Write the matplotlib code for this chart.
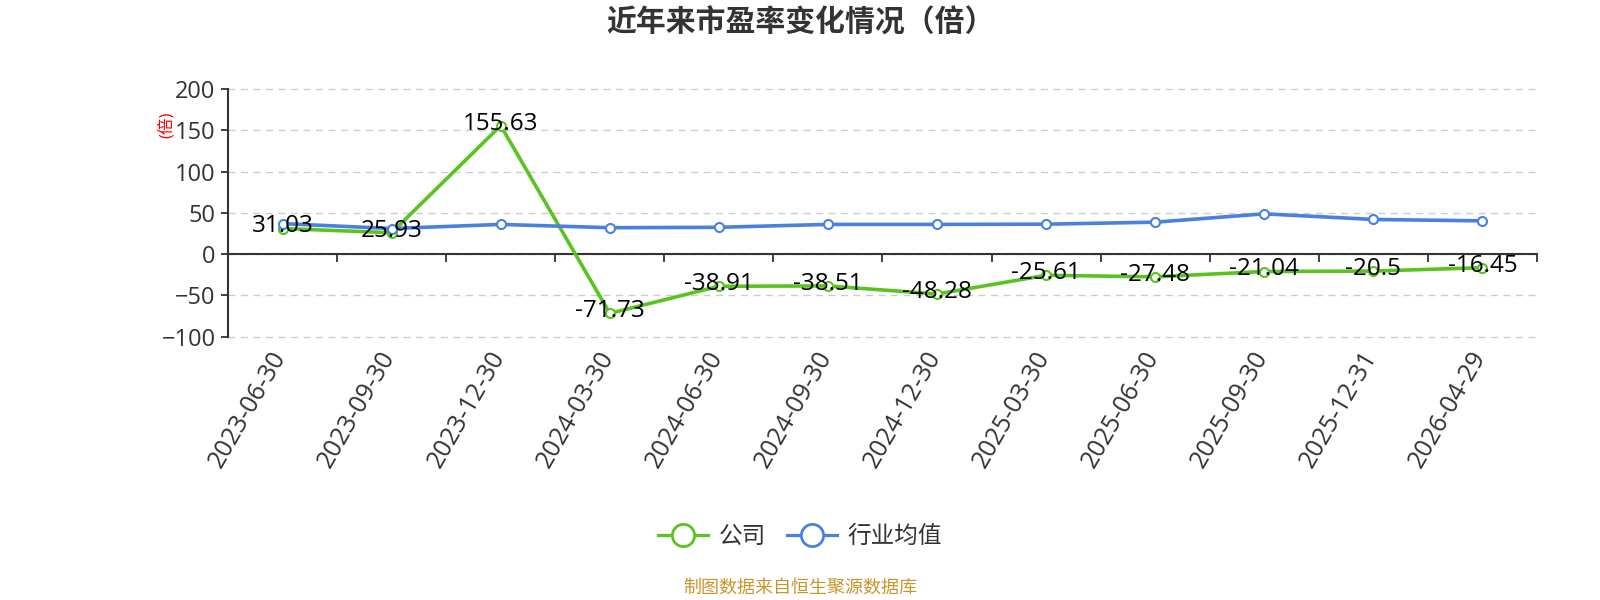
import matplotlib
matplotlib.use('Agg')
import matplotlib.pyplot as plt
import matplotlib.transforms as mtransforms
from matplotlib.lines import Line2D
import numpy as np

plt.rcParams['font.family'] = ['Open Sans', 'Noto Sans CJK SC', 'DejaVu Sans']

# données
dates = ['2023-06-30', '2023-09-30', '2023-12-30', '2024-03-30', '2024-06-30',
         '2024-09-30', '2024-12-30', '2025-03-30', '2025-06-30', '2025-09-30',
         '2025-12-31', '2026-04-29']
pe_societe = [31.03, 25.93, 155.63, -71.73, -38.91, -38.51, -48.28,
              -25.61, -27.48, -21.04, -20.5, -16.45]
pe_secteur = [37.0, 31.0, 36.0, 32.0, 32.5, 36.0, 36.0, 36.3, 38.7, 48.8, 42.0, 40.3]
y_ticks = [-100, -50, 0, 50, 100, 150, 200]

vert = '#5BC31F'
bleu = '#4A80E0'
gris = '#333333'

fig = plt.figure(figsize=(16, 6), dpi=100)
ax = fig.add_axes([228 / 1600, 1 - 336.7 / 600, (1537 - 228) / 1600, (336.7 - 89) / 600])

x = np.arange(len(dates))
ax.plot(x, pe_societe, color=vert, lw=2.6, marker='o', ms=6.5, mfc='white',
        mec=vert, mew=1.5, zorder=3)
ax.plot(x, pe_secteur, color=bleu, lw=2.6, marker='o', ms=6.5, mfc='white',
        mec=bleu, mew=1.5, zorder=4)

for xi, v in zip(x, pe_societe):
    ax.annotate('{:g}'.format(v), (xi, v), xytext=(0, 1.5), textcoords='offset points',
                ha='center', va='center', fontsize=17.5, color='black', zorder=6)

ax.set_xlim(-0.5, len(dates) - 0.5)
ax.set_ylim(y_ticks[0], y_ticks[-1])
ax.set_yticks(y_ticks)
ax.yaxis.grid(True, linestyle=(0, (5, 4)), color='#cccccc', lw=1)
ax.set_axisbelow(True)
for gl in ax.yaxis.get_gridlines():
    gl.set_clip_on(False)
ax.tick_params(axis='y', direction='out', length=5, width=1.3, color=gris,
               labelsize=17, labelcolor=gris, pad=4)

ax.set_xticks(x)
ax.set_xticklabels(dates, rotation=60, ha='right', va='top')
ax.tick_params(axis='x', length=0, labelsize=18, labelcolor=gris, pad=7)
decalage = mtransforms.ScaledTranslation(9 / 100, 0, fig.dpi_scale_trans)
for lab in ax.get_xticklabels():
    lab.set_transform(lab.get_transform() + decalage)

for cote in ['top', 'right', 'bottom']:
    ax.spines[cote].set_visible(False)
ax.spines['left'].set_color(gris)
ax.spines['left'].set_linewidth(1.5)

# axe des x sur la ligne zéro
pos_zero = (0 - y_ticks[0]) / (y_ticks[-1] - y_ticks[0])
ax_zero = ax.secondary_xaxis(pos_zero)
ax_zero.set_zorder(2)
ax_zero.set_xticks(np.arange(len(dates) + 1) - 0.5)
ax_zero.set_xticklabels([])
ax_zero.tick_params(direction='out', length=6, width=1.3, color=gris)
ax_zero.spines['bottom'].set_color(gris)
ax_zero.spines['bottom'].set_linewidth(1.5)

fig.text(0.5, 1 - 23.5 / 600, '近年来市盈率变化情况（倍）', ha='center', va='center',
         fontsize=21.5, fontweight='bold', color=gris)
fig.text(167 / 1600, 1 - 125 / 600, '(倍)', rotation=90, ha='center', va='center',
         fontsize=12, color='red')

poignees = [Line2D([0], [0], color=vert, lw=2.3, marker='o', ms=16, mfc='white', mec=vert, mew=2),
            Line2D([0], [0], color=bleu, lw=2.3, marker='o', ms=16, mfc='white', mec=bleu, mew=2)]
fig.legend(poignees, ['公司', '行业均值'], loc='center', bbox_to_anchor=(0.5, 1 - 537 / 600),
           ncol=2, frameon=False, fontsize=17, handlelength=2.1, handletextpad=0.45,
           columnspacing=0.9, labelcolor=gris)

fig.text(0.5, 1 - 588 / 600, '制图数据来自恒生聚源数据库', ha='center', va='center',
         fontsize=13, color='#C9962C')

fig.savefig('out.png', dpi=100)
